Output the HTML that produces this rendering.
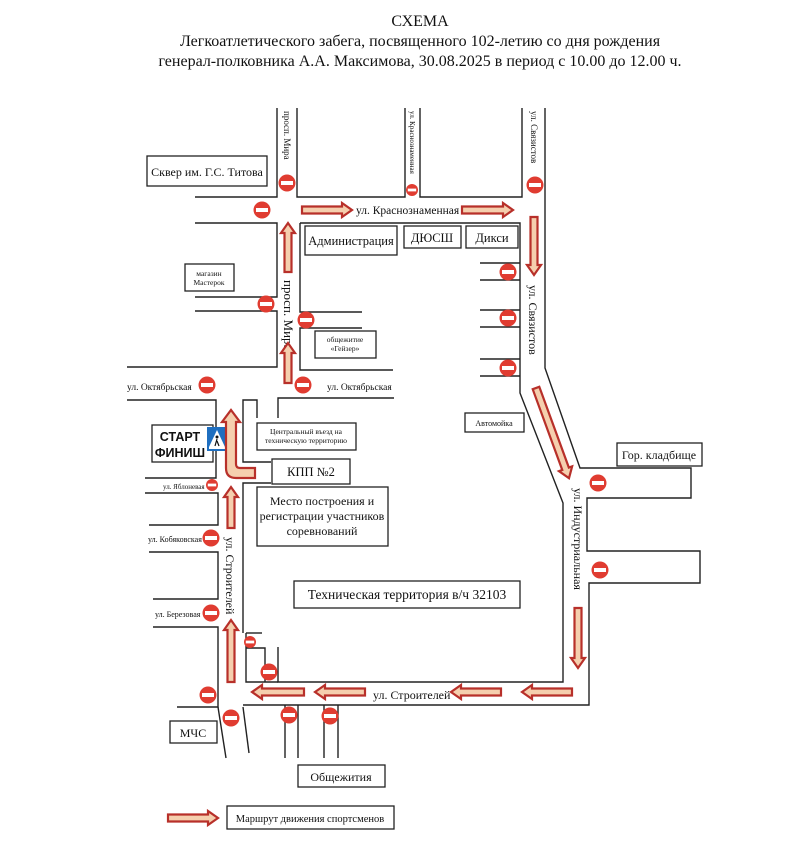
<!DOCTYPE html>
<html><head><meta charset="utf-8"><style>
html,body{margin:0;padding:0;background:#fff;}
svg{display:block;}
text{font-family:"Liberation Serif",serif;fill:#111;}
.b{fill:#fff;stroke:#222;stroke-width:1.3;}
.r{fill:none;stroke:#222;stroke-width:1.4;}
.ar{fill:#f5cfae;stroke:#b8302a;stroke-width:2.2;stroke-linejoin:miter;}
</style></head><body>
<svg width="787" height="860" viewBox="0 0 787 860" xmlns="http://www.w3.org/2000/svg">
<defs>
<g id="stop"><circle r="8.5" fill="#e03c31"/><rect x="-6" y="-2" width="12" height="4" fill="#fff"/></g>
<g id="stops"><circle r="6" fill="#e03c31"/><rect x="-4.2" y="-1.4" width="8.4" height="2.8" fill="#fff"/></g>
</defs>
<text x="420" y="26" font-size="16" text-anchor="middle">СХЕМА</text>
<text x="420" y="46" font-size="16" text-anchor="middle">Легкоатлетического забега, посвященного 102-летию со дня рождения</text>
<text x="420" y="66" font-size="16" text-anchor="middle">генерал-полковника А.А. Максимова, 30.08.2025 в период с 10.00 до 12.00 ч.</text>

<g class="r">
<polyline points="277,108 277,197 195,197"/>
<polyline points="297,108 297,197 405,197 405,108"/>
<polyline points="420,108 420,197 522,197 522,108"/>
<polyline points="545,108 545,368 580,468 691,468 691,498 587,498 587,551 700,551 700,583 589,583 589,705 243,705"/>
<polyline points="195,223 277,223 277,297 195,297"/>
<polyline points="195,311 277,311 277,367 127,367"/>
<polyline points="300,223 520,223 520,393 563,503 563,682 278,682 278,647"/>
<polyline points="300,223 300,312 362,312"/>
<polyline points="362,328 300,328 300,370 393,370"/>
<polyline points="480,263 520,263"/><polyline points="480,280 520,280"/>
<polyline points="480,310 520,310"/><polyline points="480,327 520,327"/>
<polyline points="480,359 520,359"/><polyline points="480,376 520,376"/>
<polyline points="127,400 216,400 216,478 145,478"/>
<polyline points="145,493 218,493 218,525 149,525"/>
<polyline points="149,552 218,552 218,599 153,599"/>
<polyline points="153,627 218,627 218,707 177,707"/>
<polyline points="218,707 226,758"/>
<polyline points="243,707 249,753"/>
<polyline points="257,418 257,400 243,400 243,462 271,462"/>
<polyline points="278,418 278,398 394,398"/>
<polyline points="271,483 243,483 243,633"/>
<polyline points="246,633 262,633"/>
<polyline points="246,633 246,682 278,682"/>
<polyline points="246,648 265,648 265,682"/>
<polyline points="285,705 285,758"/><polyline points="298,705 298,758"/>
<polyline points="324,705 324,758"/><polyline points="338,705 338,758"/>
</g>

<rect class="b" x="147" y="156" width="120" height="30"/>
<text x="207" y="176" font-size="12" text-anchor="middle">Сквер им. Г.С. Титова</text>
<rect class="b" x="305" y="226" width="92" height="29"/>
<text x="351" y="245" font-size="12.5" text-anchor="middle">Администрация</text>
<rect class="b" x="404" y="226" width="57" height="22"/>
<text x="432" y="242" font-size="12.5" text-anchor="middle">ДЮСШ</text>
<rect class="b" x="466" y="226" width="52" height="22"/>
<text x="492" y="242" font-size="12.5" text-anchor="middle">Дикси</text>
<rect class="b" x="185" y="264" width="49" height="27"/>
<text x="209" y="276" font-size="7.5" text-anchor="middle">магазин</text>
<text x="209" y="285" font-size="7.5" text-anchor="middle">Мастерок</text>
<rect class="b" x="315" y="331" width="61" height="27"/>
<text x="345" y="342" font-size="7.5" text-anchor="middle">общежитие</text>
<text x="345" y="351" font-size="7.5" text-anchor="middle">«Гейзер»</text>
<rect class="b" x="152" y="425" width="61" height="37"/>
<text x="180" y="441" font-size="12.5" font-weight="bold" text-anchor="middle" style="font-family:'Liberation Sans',sans-serif">СТАРТ</text>
<text x="180" y="457" font-size="12.5" font-weight="bold" text-anchor="middle" style="font-family:'Liberation Sans',sans-serif">ФИНИШ</text>
<rect x="207" y="427" width="20" height="24" fill="#1f6fc0"/>
<polygon points="217,430 225,447 209,447" fill="#fff"/>
<rect x="209" y="447" width="16" height="2" fill="#fff"/>
<circle cx="217" cy="437" r="1.5" fill="#111"/>
<path d="M217,439 L215,446 M217,441 L219,446" stroke="#111" stroke-width="1.2"/>
<rect class="b" x="257" y="423" width="99" height="27"/>
<text x="306" y="434" font-size="7.5" text-anchor="middle">Центральный въезд на</text>
<text x="306" y="443" font-size="7.5" text-anchor="middle">техническую территорию</text>
<rect class="b" x="465" y="413" width="59" height="19"/>
<text x="494" y="426" font-size="8" text-anchor="middle">Автомойка</text>
<rect class="b" x="272" y="459" width="78" height="25"/>
<text x="311" y="476" font-size="12.5" text-anchor="middle">КПП №2</text>
<rect class="b" x="257" y="487" width="131" height="59"/>
<text x="322" y="505" font-size="12" text-anchor="middle">Место построения и</text>
<text x="322" y="520" font-size="12" text-anchor="middle">регистрации участников</text>
<text x="322" y="535" font-size="12" text-anchor="middle">соревнований</text>
<rect class="b" x="617" y="443" width="85" height="23"/>
<text x="659" y="459" font-size="12" text-anchor="middle">Гор. кладбище</text>
<rect class="b" x="294" y="581" width="226" height="27"/>
<text x="407" y="599" font-size="13.5" text-anchor="middle">Техническая территория в/ч 32103</text>
<rect class="b" x="170" y="721" width="47" height="22"/>
<text x="193" y="737" font-size="12" text-anchor="middle">МЧС</text>
<rect class="b" x="298" y="765" width="87" height="22"/>
<text x="341" y="781" font-size="12" text-anchor="middle">Общежития</text>
<rect class="b" x="227" y="806" width="167" height="23"/>
<text x="310" y="822" font-size="10.5" text-anchor="middle">Маршрут движения спортсменов</text>

<text font-size="9" transform="translate(284,111) rotate(90)">просп. Мира</text>
<text font-size="7" transform="translate(410,111) rotate(90)">ул. Краснознаменная</text>
<text font-size="9" transform="translate(531,111) rotate(90)">ул. Связистов</text>
<text font-size="13" transform="translate(284,280) rotate(90)">просп. Мира</text>
<text font-size="12" transform="translate(529,285) rotate(90)">ул. Связистов</text>
<text font-size="12" transform="translate(574,488) rotate(90)">ул. Индустриальная</text>
<text font-size="12" transform="translate(226,537) rotate(90)">ул. Строителей</text>
<text x="356" y="214" font-size="11.5">ул. Краснознаменная</text>
<text x="127" y="390" font-size="9.5">ул. Октябрьская</text>
<text x="327" y="390" font-size="9.5">ул. Октябрьская</text>
<text x="163" y="489" font-size="7">ул. Яблоневая</text>
<text x="148" y="542" font-size="8">ул. Кобяковская</text>
<text x="155" y="617" font-size="8">ул. Березовая</text>
<text x="373" y="699" font-size="12">ул. Строителей</text>

<g class="ar">
<polygon transform="translate(302,210)" points="0,-3.5 40,-3.5 40,-7 50,0 40,7 40,3.5 0,3.5"/>
<polygon transform="translate(462,210)" points="0,-3.5 41,-3.5 41,-7 51,0 41,7 41,3.5 0,3.5"/>
<polygon transform="translate(534,217) rotate(90)" points="0,-3.5 48,-3.5 48,-7 58,0 48,7 48,3.5 0,3.5"/>
<polygon transform="translate(536,388) rotate(69.9)" points="0,-3.5 86,-3.5 86,-7 96,0 86,7 86,3.5 0,3.5"/>
<polygon transform="translate(578,608) rotate(90)" points="0,-3.5 50,-3.5 50,-7 60,0 50,7 50,3.5 0,3.5"/>
<polygon transform="translate(572,692) rotate(180)" points="0,-3.5 40,-3.5 40,-7 50,0 40,7 40,3.5 0,3.5"/>
<polygon transform="translate(501,692) rotate(180)" points="0,-3.5 40,-3.5 40,-7 50,0 40,7 40,3.5 0,3.5"/>
<polygon transform="translate(365,692) rotate(180)" points="0,-3.5 40,-3.5 40,-7 50,0 40,7 40,3.5 0,3.5"/>
<polygon transform="translate(304,692) rotate(180)" points="0,-3.5 42,-3.5 42,-7 52,0 42,7 42,3.5 0,3.5"/>
<polygon transform="translate(231,682) rotate(-90)" points="0,-3.5 52,-3.5 52,-7 62,0 52,7 52,3.5 0,3.5"/>
<polygon transform="translate(231,528) rotate(-90)" points="0,-3.5 31,-3.5 31,-7 41,0 31,7 31,3.5 0,3.5"/>
<polygon transform="translate(288,383) rotate(-90)" points="0,-3.5 30,-3.5 30,-7 40,0 30,7 30,3.5 0,3.5"/>
<polygon transform="translate(288,272) rotate(-90)" points="0,-3.5 39,-3.5 39,-7 49,0 39,7 39,3.5 0,3.5"/>
<polygon transform="translate(168,818)" points="0,-3.5 40,-3.5 40,-7 50,0 40,7 40,3.5 0,3.5"/>
<path d="M255,468 L240,468 Q236,468 236,464 L236,422 L240,422 L231,410 L222,422 L226,422 L226,468 Q226,478 236,478 L255,478 Z"/>
</g>

<use href="#stop" x="287" y="183"/>
<use href="#stops" x="412" y="190"/>
<use href="#stop" x="535" y="185"/>
<use href="#stop" x="262" y="210"/>
<use href="#stop" x="508" y="272"/>
<use href="#stop" x="508" y="318"/>
<use href="#stop" x="508" y="368"/>
<use href="#stop" x="266" y="304"/>
<use href="#stop" x="306" y="320"/>
<use href="#stop" x="207" y="385"/>
<use href="#stop" x="303" y="385"/>
<use href="#stops" x="212" y="485"/>
<use href="#stop" x="211" y="538"/>
<use href="#stop" x="211" y="613"/>
<use href="#stops" x="250" y="642"/>
<use href="#stop" x="269" y="672"/>
<use href="#stop" x="208" y="695"/>
<use href="#stop" x="231" y="718"/>
<use href="#stop" x="289" y="715"/>
<use href="#stop" x="330" y="716"/>
<use href="#stop" x="598" y="483"/>
<use href="#stop" x="600" y="570"/>
</svg>
</body></html>
